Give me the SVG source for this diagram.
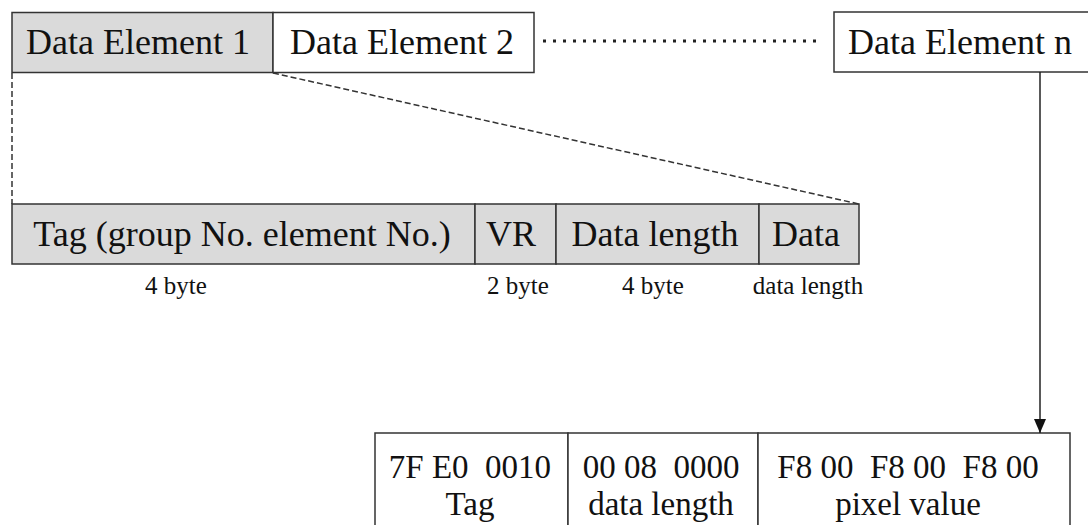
<svg xmlns="http://www.w3.org/2000/svg" width="1088" height="525" viewBox="0 0 1088 525">
  <style>
    .box { stroke: #333; stroke-width: 1.5; }
    .gray { fill: #dadada; }
    .white { fill: #fff; }
    .t { font-family: "Liberation Serif", "Times New Roman", serif; font-size: 36px; fill: #111; }
    .s { font-size: 33px; }
    .lbl { font-family: "Liberation Serif", "Times New Roman", serif; font-size: 25px; fill: #111; text-anchor: middle; }
    .mid { text-anchor: middle; }
    .dash { fill: none; stroke: #333; stroke-width: 1.5; stroke-dasharray: 6 3; }
    .dots { fill: none; stroke: #222; stroke-width: 3; stroke-dasharray: 3 7; }
    .link { fill: none; stroke: #222; stroke-width: 1.5; }
  </style>
  <defs>
    <marker id="arrow" markerWidth="14" markerHeight="12" refX="14" refY="6" orient="auto" markerUnits="userSpaceOnUse" viewBox="0 0 14 12">
      <path d="M0,0 L14,6 L0,12 Z" fill="#111"/>
    </marker>
  </defs>
  <rect width="1088" height="525" fill="#fff"/>

  <!-- top row: data element sequence -->
  <g id="element1">
    <rect class="box gray" x="12" y="12.5" width="261" height="60"/>
    <text class="t" x="26" y="54">Data Element 1</text>
  </g>
  <g id="element2">
    <rect class="box white" x="273" y="12.5" width="261" height="60"/>
    <text class="t" x="290" y="54">Data Element 2</text>
  </g>
  <g id="elementN">
    <rect class="box white" x="834" y="12" width="270" height="60"/>
    <text class="t" x="848" y="54">Data Element n</text>
  </g>

  <!-- structure of one data element -->
  <g id="tag">
    <rect class="box gray" x="12" y="204" width="463" height="60"/>
    <text class="t mid" x="242" y="246">Tag (group No. element No.)</text>
    <text class="lbl" x="176" y="294">4 byte</text>
  </g>
  <g id="vr">
    <rect class="box gray" x="475" y="204" width="81" height="60"/>
    <text class="t mid" x="511" y="246">VR</text>
    <text class="lbl" x="518" y="294">2 byte</text>
  </g>
  <g id="datalength">
    <rect class="box gray" x="556" y="204" width="203" height="60"/>
    <text class="t mid" x="655" y="246">Data length</text>
    <text class="lbl" x="653" y="294">4 byte</text>
  </g>
  <g id="data">
    <rect class="box gray" x="759" y="204" width="100" height="60"/>
    <text class="t mid" x="806" y="246">Data</text>
    <text class="lbl" x="808" y="294">data length</text>
  </g>

  <!-- pixel data element example -->
  <g id="pixelTag">
    <rect class="box white" x="375" y="433" width="193" height="100"/>
    <text class="t s mid" x="470" y="478" xml:space="preserve">7F E0  0010</text>
    <text class="t s mid" x="470" y="515">Tag</text>
  </g>
  <g id="pixelLength">
    <rect class="box white" x="568" y="433" width="190" height="100"/>
    <text class="t s mid" x="661" y="478" xml:space="preserve">00 08  0000</text>
    <text class="t s mid" x="661" y="515">data length</text>
  </g>
  <g id="pixelValue">
    <rect class="box white" x="758" y="433" width="312" height="100"/>
    <text class="t s mid" x="908" y="478" xml:space="preserve">F8 00  F8 00  F8 00</text>
    <text class="t s mid" x="908" y="515">pixel value</text>
  </g>

  <!-- connectors -->
  <g id="connectors">
    <line class="dots" x1="543" y1="41" x2="822" y2="41"/>
    <line class="dash" x1="12" y1="73" x2="12" y2="204"/>
    <line class="dash" x1="273" y1="73" x2="859" y2="204"/>
    <line class="link" x1="1040" y1="72" x2="1040" y2="433" marker-end="url(#arrow)"/>
  </g>
</svg>
